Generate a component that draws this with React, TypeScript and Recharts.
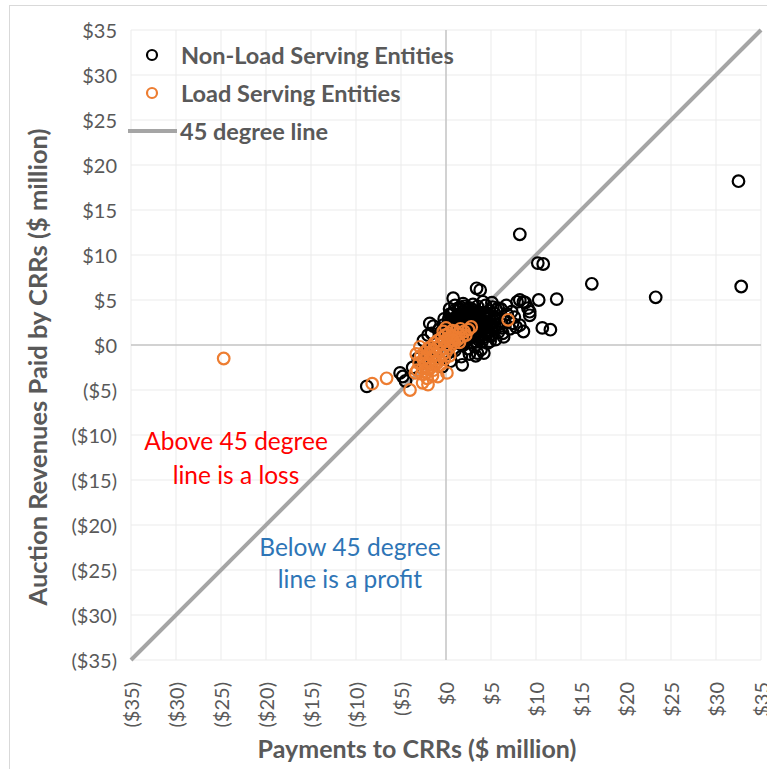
import React from "react";
import {
  ScatterChart,
  Scatter,
  XAxis,
  YAxis,
  CartesianGrid,
  ReferenceLine,
} from "recharts";

const axisTicks = [-35, -30, -25, -20, -15, -10, -5, 0, 5, 10, 15, 20, 25, 30, 35];

const seriesNames = ["Non-Load Serving Entities", "Load Serving Entities", "45 degree line"];

const nonLseX = [
  32.5, 32.8, 23.3, 16.2, 8.2, 10.2, 10.8, 10.3, 12.3, 10.7, 11.6, 8.6, 6.3, 7.4, 9.3, 9.1, 9.3, 8.2, 8.2, 8.6,
  7.9, 8.8, 6.7, 5.1, 4.1, 3.8, 3.4, 0.8, 1.0, 5.4, 5.6, 4.5, 5.2, 5.8, -1.8, -2.0, -3.1, 3.5, -5.1, -8.8,
  -4.8, -4.5, 0.5, 0.8, 1.0, 1.2, 1.3, 1.5, 1.6, 1.8, 1.9, 2.0, 2.1, 2.2, 2.3, 2.4, 2.5, 2.6, 2.7, 2.8,
  2.9, 3.0, 3.1, 3.2, 3.3, 3.4, 3.5, 3.6, 3.7, 3.8, 3.9, 4.0, 4.1, 4.2, 4.3, 4.4, 4.5, 4.6, 4.7, 4.8,
  4.9, 5.0, 5.2, 5.3, 5.5, 5.7, 6.0, 6.2, 6.5, 6.8, 7.1, 7.3, 7.6, 7.8, 1.4, 0.3, 0.6, 2.0, 3.0, 2.6,
  3.3, 1.0, 0.2, 1.7, 4.2, 0.9, 1.6, 2.4, 3.6, 4.4, 5.4, 6.1, 2.2, 2.8, 3.2, 1.1, 0.7, 2.9, 3.8, 4.9,
  6.4, 5.8, 0.1, -0.3, -0.5, -0.8, -1.0, -1.4, -1.2, -2.2, -2.5, 0.4, 1.9, 2.7, 3.5, 4.4, -3.7, -2.7, -1.5, 0.5,
  1.8, -0.4, -1.6, 0.7, 1.2, 1.5, 1.9, 2.3, 2.6, 3.0, 3.4, 3.7, 4.1, 4.6, 1.3, 1.8, 2.2, 2.7, 3.1, 3.5,
  3.9, 4.3, 0.9, 1.4, 2.1, 2.5, 2.9, 3.3, 3.8, 4.2, 0.4, 0.8, -0.2, -0.6, 1.6, 2.4, 3.2, 4.0, 4.8, 5.1,
  0.2, 0.6, 1.1, 1.7, 2.0, 2.8, 3.6, 4.5, 5.0, 5.6,
];
const nonLseY = [
  18.2, 6.5, 5.3, 6.8, 12.3, 9.1, 9.0, 5.0, 5.1, 1.9, 1.7, 1.5, 1.3, 2.4, 3.3, 4.1, 3.7, 2.2, 5.0, 4.8,
  4.8, 4.7, 4.4, 4.7, 4.8, 6.1, 6.3, 5.2, 4.4, 3.1, 3.9, 3.5, 4.2, 4.1, 2.4, 1.1, -1.5, -0.9, -3.1, -4.6,
  -3.5, -4.0, 0.2, 1.0, 1.8, 2.5, 0.5, 3.0, 1.2, 2.0, 0.0, 3.5, 2.6, 1.5, 0.8, -0.4, 3.9, 2.2, 1.0, 3.1,
  0.3, 2.7, 1.8, -0.2, 3.6, 2.4, 1.3, 0.6, 3.0, 2.0, -0.5, 1.6, 3.4, 2.6, 0.9, 1.9, 2.9, 0.2, 1.4, 3.8,
  2.3, 1.0, 2.7, 1.8, 0.6, 2.2, 3.0, 1.9, 2.6, 3.4, 1.8, 3.7, 3.1, 2.0, 3.9, 2.9, 3.4, 4.3, 4.5, -1.0,
  -1.2, -0.6, -0.9, -1.3, -0.9, 2.4, 0.1, 1.2, 2.5, 3.3, 3.5, 4.0, 2.9, 1.6, 0.9, 1.4, 0.6, 3.2, 1.1, 0.4,
  0.9, 1.4, 1.6, 2.2, 0.9, 1.7, 0.3, 2.1, -0.5, -1.0, 0.5, 4.0, 4.6, 4.1, 4.3, 4.4, -2.5, -2.0, -1.8, -1.8,
  -2.2, -2.4, 1.3, 3.5, 3.2, 2.3, 3.3, 2.9, 3.5, 3.9, 2.1, 3.3, 2.2, 2.4, 2.8, 3.7, 1.9, 2.9, 1.3, 2.5,
  1.2, 1.5, 3.8, 4.1, 3.4, 4.1, 3.6, 2.9, 3.6, 3.1, 3.4, 2.1, 2.9, 1.4, 4.2, 0.6, 0.4, 0.4, 1.1, 2.0,
  2.3, 2.6, 2.2, 0.7, 0.3, 1.9, 1.0, 1.2, 2.6, 2.9,
];

const lseX = [
  -24.7, -8.2, -6.6, -4.0, -2.6, -2.1, -0.9, 0.1, -3.4, -2.9, 6.9, -2.0, -1.5, -3.0, -2.8, -2.6, -2.5, -2.4, -2.3, -2.2,
  -2.0, -2.0, -1.9, -1.8, -1.7, -1.6, -1.5, -1.4, -1.3, -1.2, -1.1, -1.0, -0.9, -0.8, -0.7, -0.6, -0.5, -0.4, -0.3, -0.2,
  -0.1, 0.0, 0.1, 0.2, 0.3, 0.4, 0.5, 0.6, 0.7, 0.9, 1.0, 1.1, 1.3, 1.4, 1.6, 1.8, 2.0, 2.2, 2.5, -2.7,
  -2.1, -1.4, -0.6, -0.2, 0.4, -1.0, -3.3, 0.8, 1.5, 2.8, -0.3, 0.0, -3.2,
];
const lseY = [
  -1.5, -4.3, -3.7, -5.0, -4.2, -3.7, -3.5, -3.1, -3.1, -0.2, 2.8, -4.4, -3.4, -2.0, -1.2, -2.6, -1.6, -0.8, -2.3, -1.4,
  -0.4, -2.7, -1.8, -1.0, -0.2, -2.4, -1.3, -0.6, 0.2, -1.9, -1.0, -0.3, 0.5, -1.5, -0.7, 0.1, 0.8, -1.1, -0.4, 0.4,
  1.1, -0.8, 0.0, 0.7, 1.3, -0.3, 0.4, 1.0, 1.6, 0.2, 0.9, 1.5, 0.6, 1.2, 1.8, 0.9, 1.5, 1.1, 1.7, -3.2,
  -3.0, -2.8, -2.2, -1.6, -1.2, -2.0, -1.0, 0.5, 0.3, 2.0, 1.5, 1.9, -2.8,
];

const nonLseData = nonLseX.map((x, i) => ({ x, y: nonLseY[i] }));
const lseData = lseX.map((x, i) => ({ x, y: lseY[i] }));

const FONT = "Lato, 'Open Sans', sans-serif";
const GRAY_TEXT = "#595959";

const fmt = (v: number) => (v < 0 ? `($${Math.abs(v)})` : `$${v}`);

const XTick = (props: any) => {
  const { x, y, payload } = props;
  const ty = y + 22;
  return (
    <text
      x={x}
      y={ty}
      transform={`rotate(-90, ${x}, ${ty})`}
      textAnchor="end"
      dominantBaseline="central"
      fontFamily={FONT}
      fontSize={20}
      fill={GRAY_TEXT}
    >
      {fmt(payload.value)}
    </text>
  );
};

const YTick = (props: any) => {
  const { x, y, payload } = props;
  return (
    <text
      x={x - 14}
      y={y}
      textAnchor="end"
      dominantBaseline="central"
      fontFamily={FONT}
      fontSize={20}
      fill={GRAY_TEXT}
    >
      {fmt(payload.value)}
    </text>
  );
};

const makeCircle = (color: string) => (props: any) => {
  const { cx, cy } = props;
  if (cx == null || cy == null) return <g />;
  return <circle cx={cx} cy={cy} r={5.8} fill="none" stroke={color} strokeWidth={2.2} />;
};

const BlackCircle = makeCircle("#000000");
const OrangeCircle = makeCircle("#ED7D31");

export default function App() {
  return (
    <div style={{ position: "absolute", left: 0, top: 0, width: 767, height: 769, background: "#fff", overflow: "hidden" }}>
      <div
        style={{
          position: "absolute",
          left: 9,
          top: 5,
          width: 800,
          height: 800,
          border: "1.5px solid #d9d9d9",
          boxSizing: "border-box",
        }}
      />
      <div style={{ position: "absolute", left: 0, top: 0 }}>
        <ScatterChart width={767} height={769} margin={{ top: 30, right: 6, left: 0, bottom: 0 }}>
          <CartesianGrid stroke="#ebebeb" strokeWidth={1} />
          <XAxis
            type="number"
            dataKey="x"
            domain={[-35, 35]}
            ticks={axisTicks}
            interval={0}
            allowDataOverflow
            axisLine={false}
            tickLine={false}
            tickSize={0}
            tickMargin={0}
            height={109}
            tick={<XTick />}
          />
          <YAxis
            type="number"
            dataKey="y"
            domain={[-35, 35]}
            ticks={axisTicks}
            interval={0}
            allowDataOverflow
            axisLine={false}
            tickLine={false}
            tickSize={0}
            tickMargin={0}
            width={131}
            tick={<YTick />}
          />
          <ReferenceLine x={0} stroke="#c6c6c6" strokeWidth={1.5} />
          <ReferenceLine y={0} stroke="#c6c6c6" strokeWidth={1.5} />
          <ReferenceLine
            segment={[
              { x: -35, y: -35 },
              { x: 35, y: 35 },
            ]}
            stroke="#A5A5A5"
            strokeWidth={4}
          />
          <Scatter name={seriesNames[0]} data={nonLseData} shape={BlackCircle} isAnimationActive={false} />
          <Scatter name={seriesNames[1]} data={lseData} shape={OrangeCircle} isAnimationActive={false} />
        </ScatterChart>
      </div>
      <svg
        width={767}
        height={769}
        style={{ position: "absolute", left: 0, top: 0, pointerEvents: "none" }}
      >
        <g fontFamily={FONT} fontWeight="bold" fontSize={23.5} fill={GRAY_TEXT}>
          <circle cx={152} cy={55} r={5} fill="none" stroke="#000" strokeWidth={2.2} />
          <text x={181} y={55} dominantBaseline="central">{seriesNames[0]}</text>
          <circle cx={152} cy={93} r={5} fill="none" stroke="#ED7D31" strokeWidth={2.2} />
          <text x={181} y={93} dominantBaseline="central">{seriesNames[1]}</text>
          <line x1={128} y1={131} x2={177} y2={131} stroke="#A5A5A5" strokeWidth={4} />
          <text x={180} y={131} dominantBaseline="central">{seriesNames[2]}</text>
        </g>
        <g fontFamily={FONT} fontSize={24.5} textAnchor="middle">
          <text x={236} y={440} dominantBaseline="central" fill="#FF0000">Above 45 degree</text>
          <text x={236} y={474} dominantBaseline="central" fill="#FF0000">line is a loss</text>
          <text x={350} y={546} dominantBaseline="central" fill="#2E75B6">Below 45 degree</text>
          <text x={350} y={578} dominantBaseline="central" fill="#2E75B6">line is a profit</text>
        </g>
        <text
          x={417}
          y={758}
          textAnchor="middle"
          fontFamily={FONT}
          fontWeight="bold"
          fontSize={25}
          fill={GRAY_TEXT}
        >
          Payments to CRRs ($ million)
        </text>
        <text
          x={47}
          y={367}
          textAnchor="middle"
          transform="rotate(-90, 47, 367)"
          fontFamily={FONT}
          fontWeight="bold"
          fontSize={25.5}
          fill={GRAY_TEXT}
        >
          Auction Revenues Paid by CRRs ($ million)
        </text>
      </svg>
    </div>
  );
}
